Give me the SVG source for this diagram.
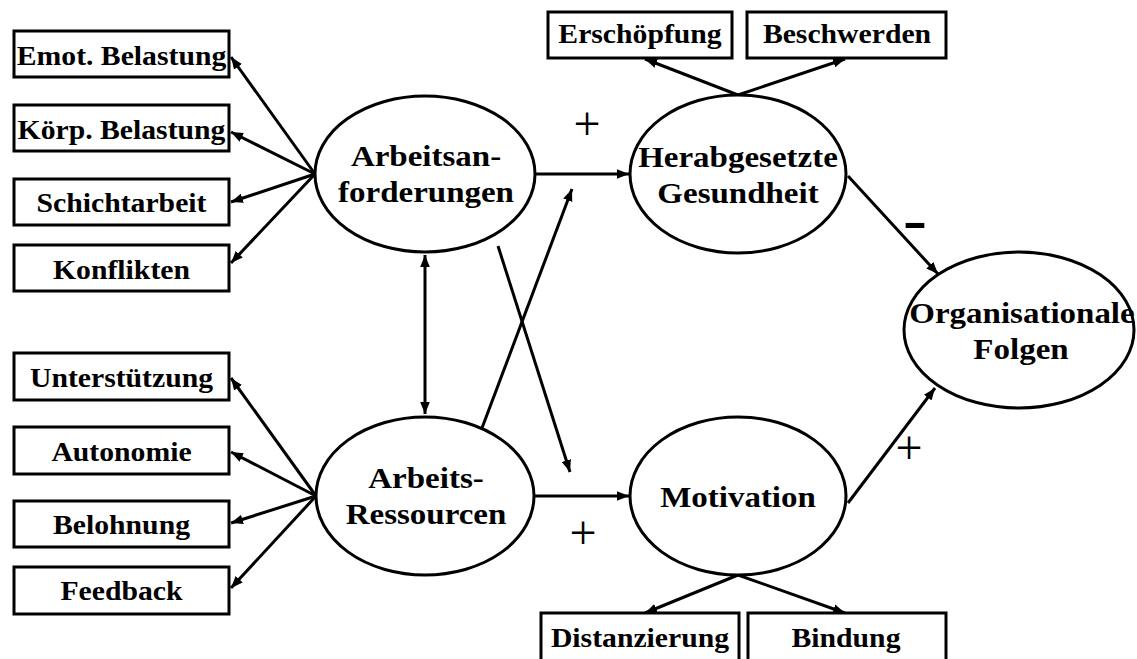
<svg xmlns="http://www.w3.org/2000/svg" width="1137" height="659" viewBox="0 0 1137 659">
<defs>
<style>
.box{fill:#fff;stroke:#000;stroke-width:3}
.ell{fill:#fff;stroke:#000;stroke-width:3}
.bt{font-family:"Liberation Serif","Times New Roman",serif;font-weight:bold;font-size:27px;text-anchor:middle;fill:#000}
.et{font-family:"Liberation Serif","Times New Roman",serif;font-weight:bold;font-size:30px;text-anchor:middle;fill:#000}
.sg{font-family:"Liberation Serif","Times New Roman",serif;font-size:48px;text-anchor:middle;fill:#000}
.mn{font-family:"Liberation Serif","Times New Roman",serif;font-weight:bold;font-size:60px;text-anchor:middle;fill:#000}
.c{stroke:#000;stroke-width:3;fill:none;marker-end:url(#ah)}
</style>
<marker id="ah" viewBox="0 0 10 8" refX="10" refY="4" markerWidth="12" markerHeight="10" orient="auto-start-reverse" markerUnits="userSpaceOnUse"><path d="M0,0 L10,4 L0,8 z" fill="#000"/></marker>
</defs>
<rect width="1137" height="659" fill="#fff"/>
<g id="connectors">
<line class="c" x1="315" y1="174" x2="231" y2="57"/>
<line class="c" x1="315" y1="174" x2="231" y2="132"/>
<line class="c" x1="315" y1="174" x2="231" y2="202"/>
<line class="c" x1="315" y1="174" x2="231" y2="263"/>
<line class="c" x1="316" y1="496" x2="231" y2="378"/>
<line class="c" x1="316" y1="496" x2="231" y2="452"/>
<line class="c" x1="316" y1="496" x2="231" y2="523"/>
<line class="c" x1="316" y1="496" x2="231" y2="588"/>
<line class="c" x1="425" y1="255" x2="425" y2="414" style="marker-start:url(#ah)"/>
<line class="c" x1="536" y1="174" x2="629" y2="174"/>
<line class="c" x1="534" y1="496" x2="629" y2="496"/>
<line class="c" x1="482" y1="428" x2="572" y2="189"/>
<line class="c" x1="498" y1="246" x2="570" y2="472"/>
<line class="c" x1="738" y1="95" x2="645" y2="59"/>
<line class="c" x1="738" y1="95" x2="845" y2="59"/>
<line class="c" x1="738" y1="575" x2="645" y2="613"/>
<line class="c" x1="738" y1="575" x2="845" y2="613"/>
<line class="c" x1="848" y1="176" x2="938" y2="274"/>
<line class="c" x1="848" y1="503" x2="935" y2="388"/>
<text class="sg" x="587" y="140">+</text>
<text class="sg" x="583" y="549">+</text>
<text class="sg" x="909" y="464">+</text>
<text class="mn" transform="translate(915,239) scale(1.2,1)">-</text>
</g>
<g id="emot"><rect class="box" x="14" y="31" width="215" height="46"/><text class="bt" transform="translate(121.5,65) scale(1.1,1)">Emot. Belastung</text></g>
<g id="koerp"><rect class="box" x="14" y="105" width="215" height="46"/><text class="bt" transform="translate(121.5,139) scale(1.1,1)">Körp. Belastung</text></g>
<g id="schicht"><rect class="box" x="14" y="179" width="215" height="46"/><text class="bt" transform="translate(121.5,212) scale(1.1,1)">Schichtarbeit</text></g>
<g id="konflikt"><rect class="box" x="14" y="245" width="215" height="46"/><text class="bt" transform="translate(121.5,279) scale(1.1,1)">Konflikten</text></g>
<g id="unterst"><rect class="box" x="14" y="353" width="215" height="47"/><text class="bt" transform="translate(121.5,387) scale(1.1,1)">Unterstützung</text></g>
<g id="autonomie"><rect class="box" x="14" y="427" width="215" height="47"/><text class="bt" transform="translate(121.5,461) scale(1.1,1)">Autonomie</text></g>
<g id="belohnung"><rect class="box" x="14" y="501" width="215" height="46"/><text class="bt" transform="translate(121.5,534) scale(1.1,1)">Belohnung</text></g>
<g id="feedback"><rect class="box" x="14" y="567" width="215" height="47"/><text class="bt" transform="translate(121.5,600) scale(1.1,1)">Feedback</text></g>
<g id="anforderungen"><ellipse class="ell" cx="425" cy="174" rx="110" ry="78"/><text class="et" transform="translate(426,166) scale(1.1,1)">Arbeitsan-</text><text class="et" transform="translate(426,202) scale(1.1,1)">forderungen</text></g>
<g id="ressourcen"><ellipse class="ell" cx="425" cy="496" rx="109" ry="79"/><text class="et" transform="translate(426,488) scale(1.1,1)">Arbeits-</text><text class="et" transform="translate(426,524) scale(1.1,1)">Ressourcen</text></g>
<g id="gesundheit"><ellipse class="ell" cx="738" cy="174" rx="108" ry="79"/><text class="et" transform="translate(738,167) scale(1.1,1)">Herabgesetzte</text><text class="et" transform="translate(738,203) scale(1.1,1)">Gesundheit</text></g>
<g id="motivation"><ellipse class="ell" cx="738" cy="496" rx="108" ry="79"/><text class="et" transform="translate(738,507) scale(1.1,1)">Motivation</text></g>
<g id="folgen"><ellipse class="ell" cx="1019" cy="330" rx="115" ry="78"/><text class="et" transform="translate(1022,323) scale(1.1,1)">Organisationale</text><text class="et" transform="translate(1021,359) scale(1.1,1)">Folgen</text></g>
<g id="erschoepfung"><rect class="box" x="548" y="12" width="184" height="46"/><text class="bt" transform="translate(640,43) scale(1.1,1)">Erschöpfung</text></g>
<g id="beschwerden"><rect class="box" x="747" y="12" width="199" height="46"/><text class="bt" transform="translate(847,43) scale(1.1,1)">Beschwerden</text></g>
<g id="distanzierung"><rect class="box" x="541" y="613" width="198" height="48"/><text class="bt" transform="translate(640,647) scale(1.1,1)">Distanzierung</text></g>
<g id="bindung"><rect class="box" x="748" y="613" width="198" height="48"/><text class="bt" transform="translate(846,647) scale(1.1,1)">Bindung</text></g>
</svg>
